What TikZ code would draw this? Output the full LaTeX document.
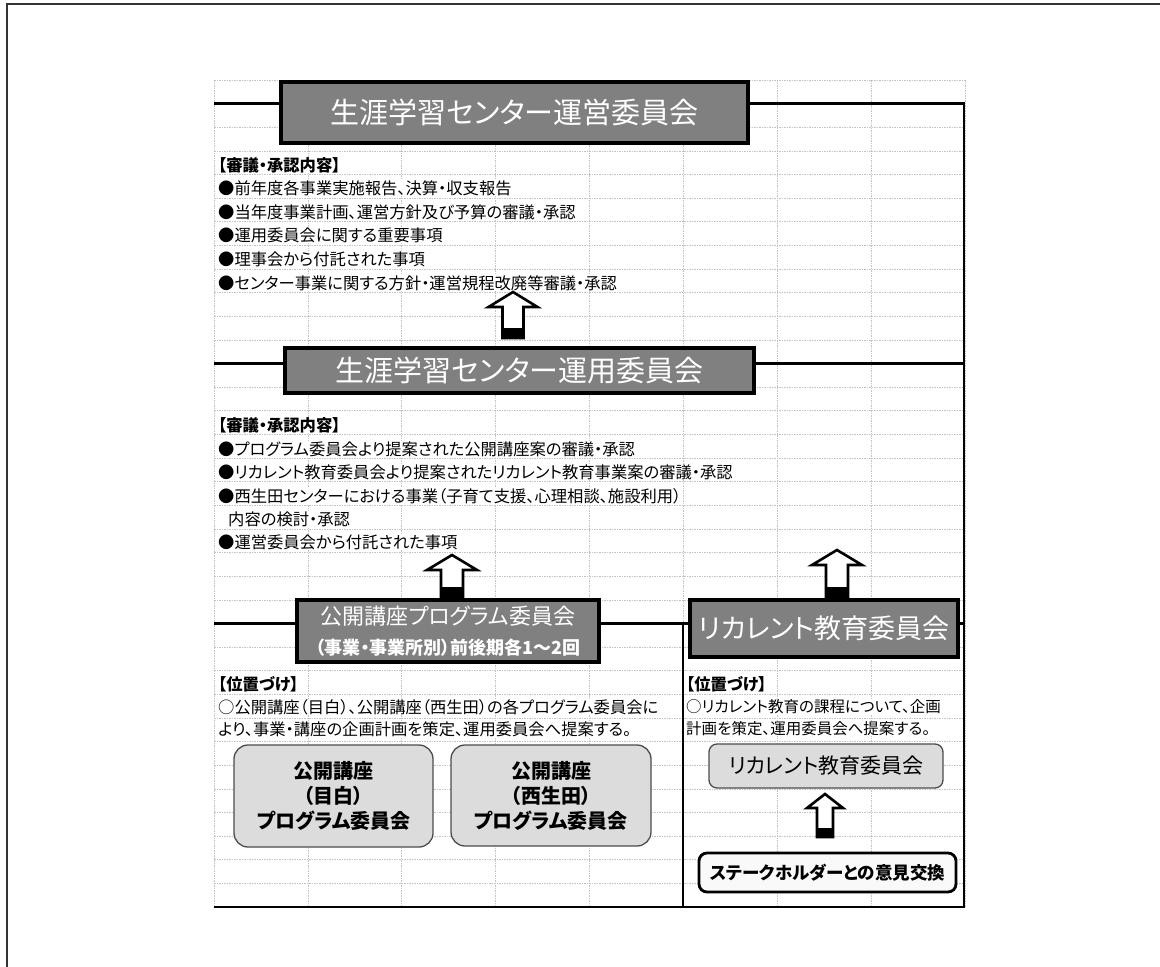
\documentclass[tikz,border=0pt]{standalone}
\usepackage{fontspec}
\setmainfont{Noto Sans CJK JP}[RawFeature={+palt}]
\usetikzlibrary{calc}
\definecolor{titlegray}{HTML}{808080}
\definecolor{lightbox}{HTML}{DCDCDC}
\definecolor{gridc}{HTML}{C4C4C4}
\definecolor{framec}{HTML}{333333}
\tikzset{
  gridline/.style={gridc, line width=0.7pt, dash pattern=on 1.5pt off 1pt},
  conn/.style={black, line width=2.6pt, line join=miter},
  titlebox/.style={draw=black, line width=3.5pt, fill=titlegray, text=white, inner sep=0pt, align=center},
  lightrbox/.style={draw=black!70, line width=1.3pt, fill=lightbox, rounded corners=14pt, inner sep=0pt, align=center},
  bodytext/.style={anchor=west, inner xsep=1pt, inner ysep=0pt, fill=white, font=\fontsize{16.3}{19}\selectfont},
  headtext/.style={bodytext, font=\bfseries\fontsize{16.3}{19}\selectfont},
  arrowline/.style={draw=black, line width=2.6pt, line join=miter},
}
% cx, ytop, ybottom, head half width, shaft half width, head height, black height
\newcommand{\blkarrow}[7]{%
  \fill[white] (#1,#2) -- ({#1+#4},{#2+#6}) -- ({#1+#5},{#2+#6}) -- ({#1+#5},#3) -- ({#1-#5},#3) -- ({#1-#5},{#2+#6}) -- ({#1-#4},{#2+#6}) -- cycle;
  \fill[black] ({#1-#5},{#3-#7}) rectangle ({#1+#5},#3);
  \draw[arrowline] (#1,#2) -- ({#1+#4},{#2+#6}) -- ({#1+#5},{#2+#6}) -- ({#1+#5},#3) -- ({#1-#5},#3) -- ({#1-#5},{#2+#6}) -- ({#1-#4},{#2+#6}) -- cycle;}
\begin{document}
\begin{tikzpicture}[x=1pt,y=-1pt]
\useasboundingbox (0,0) rectangle (1160,967);
% outer frame
\draw[framec, line width=2pt] (7,967) -- (7,4) -- (1160,4);
% sheet grid
\foreach \k in {0,...,35} \draw[gridline] (214,{80+23.63*\k}) -- (965,{80+23.63*\k});
\foreach \i in {0,...,8} \draw[gridline] ({214+93.875*\i},80) -- ({214+93.875*\i},907);

% block 1
\node[headtext] (h1) at (217,165) {【審議・承認内容】};
\node[bodytext] (p11) at (217,188) {●前年度各事業実施報告、決算・収支報告};
\node[bodytext] (p12) at (217,212) {●当年度事業計画、運営方針及び予算の審議・承認};
\node[bodytext] (p13) at (217,235) {●運用委員会に関する重要事項};
\node[bodytext] (p14) at (217,259) {●理事会から付託された事項};
\node[bodytext] (p15) at (217,283) {●センター事業に関する方針・運営規程改廃等審議・承認};

% block 2
\node[headtext] (h2) at (217,425) {【審議・承認内容】};
\node[bodytext] (p21) at (217,449) {●プログラム委員会より提案された公開講座案の審議・承認};
\node[bodytext] (p22) at (217,472) {●リカレント教育委員会より提案されたリカレント教育事業案の審議・承認};
\node[bodytext] (p23) at (217,496) {●西生田センターにおける事業（子育て支援、心理相談、施設利用）};
\node[bodytext] (p24) at (217,519) {\hspace*{10pt}内容の検討・承認};
\node[bodytext] (p25) at (217,542) {●運営委員会から付託された事項};

% block 3 left
\node[headtext] (h3) at (217,684) {【位置づけ】};
\node[bodytext] (p31) at (217,707) {○公開講座（目白）、公開講座（西生田）の各プログラム委員会に};
\node[bodytext] (p32) at (217,729) {より、事業・講座の企画計画を策定、運用委員会へ提案する。};

% block 3 right
\node[headtext] (h4) at (685,684) {【位置づけ】};
\node[bodytext, font=\fontsize{15.5}{19}\selectfont] (p41) at (685,707) {○リカレント教育の課程について、企画};
\node[bodytext, font=\fontsize{15.5}{19}\selectfont] (p42) at (685,729) {計画を策定、運用委員会へ提案する。};

% title boxes
\node[titlebox, minimum width=467pt, minimum height=61pt, font=\fontsize{29}{34}\selectfont] (t1) at (514.5,112.5) {生涯学習センター運営委員会};
\node[titlebox, minimum width=469pt, minimum height=45pt, font=\fontsize{29}{34}\selectfont] (t2) at (519.5,370.5) {生涯学習センター運用委員会};
\node[titlebox, minimum width=302pt, minimum height=62pt, font=\fontsize{22}{27}\selectfont] (pk) at (448,631)
  {公開講座プログラム委員会\\[3pt]{\bfseries\fontsize{18}{22}\selectfont （事業・事業所別）前後期各1～2回}};
\node[titlebox, minimum width=268pt, minimum height=57pt, font=\fontsize{27}{32}\selectfont] (rk) at (824,628.5) {リカレント教育委員会};

% light rounded boxes
\node[lightrbox, minimum width=199pt, minimum height=102pt, font=\bfseries\fontsize{20}{25}\selectfont] (ma) at (333.5,796) {公開講座\\（目白）\\プログラム委員会};
\node[lightrbox, minimum width=200pt, minimum height=101pt, font=\bfseries\fontsize{20}{25}\selectfont] (ni) at (551,795.5) {公開講座\\（西生田）\\プログラム委員会};
\node[lightrbox, rounded corners=8pt, minimum width=234pt, minimum height=44pt, font=\fontsize{21}{26}\selectfont] (rc) at (826,766) {リカレント教育委員会};
\node[draw=black, line width=2.8pt, fill=white!95!gray, rounded corners=8pt, minimum width=257pt, minimum height=39pt, inner sep=0pt, font=\bfseries\fontsize{17.5}{21}\selectfont] (sh) at (827.5,872.5) {ステークホルダーとの意見交換};

% connector lines
\coordinate (a1) at (214,103.6);
\coordinate (a2) at (964,103.6);
\coordinate (b1) at (214,363.6);
\coordinate (b2) at (964,363.6);
\coordinate (c1) at (214,623.5);
\coordinate (c2) at (964,623.5);
\coordinate (dv) at (683,623.5);
\coordinate (dvb) at (683,907);
\coordinate (bl) at (214,907);
\coordinate (br) at (964,907);
\draw[conn] (a1) -- (a1 -| t1.west);
\draw[conn] (a1 -| t1.east) -- (a2) -- (br) -- (bl);
\draw[conn] (b1) -- (b1 -| t2.west);
\draw[conn] (b1 -| t2.east) -- (b2);
\draw[conn] (c1) -- (c1 -| pk.west);
\draw[conn] (c1 -| pk.east) -- (c1 -| rk.west);
\draw[conn] (c1 -| rk.east) -- (c2);
\draw[conn] (dv) -- (dvb);

% block arrows
\blkarrow{513}{292}{338}{24.5}{10.5}{15}{10}
\blkarrow{452}{555}{598}{25}{11}{15}{11}
\blkarrow{837}{550}{598}{25}{11}{15}{11}
\blkarrow{825}{794}{837}{18}{8}{14}{9}
\end{tikzpicture}
\end{document}
